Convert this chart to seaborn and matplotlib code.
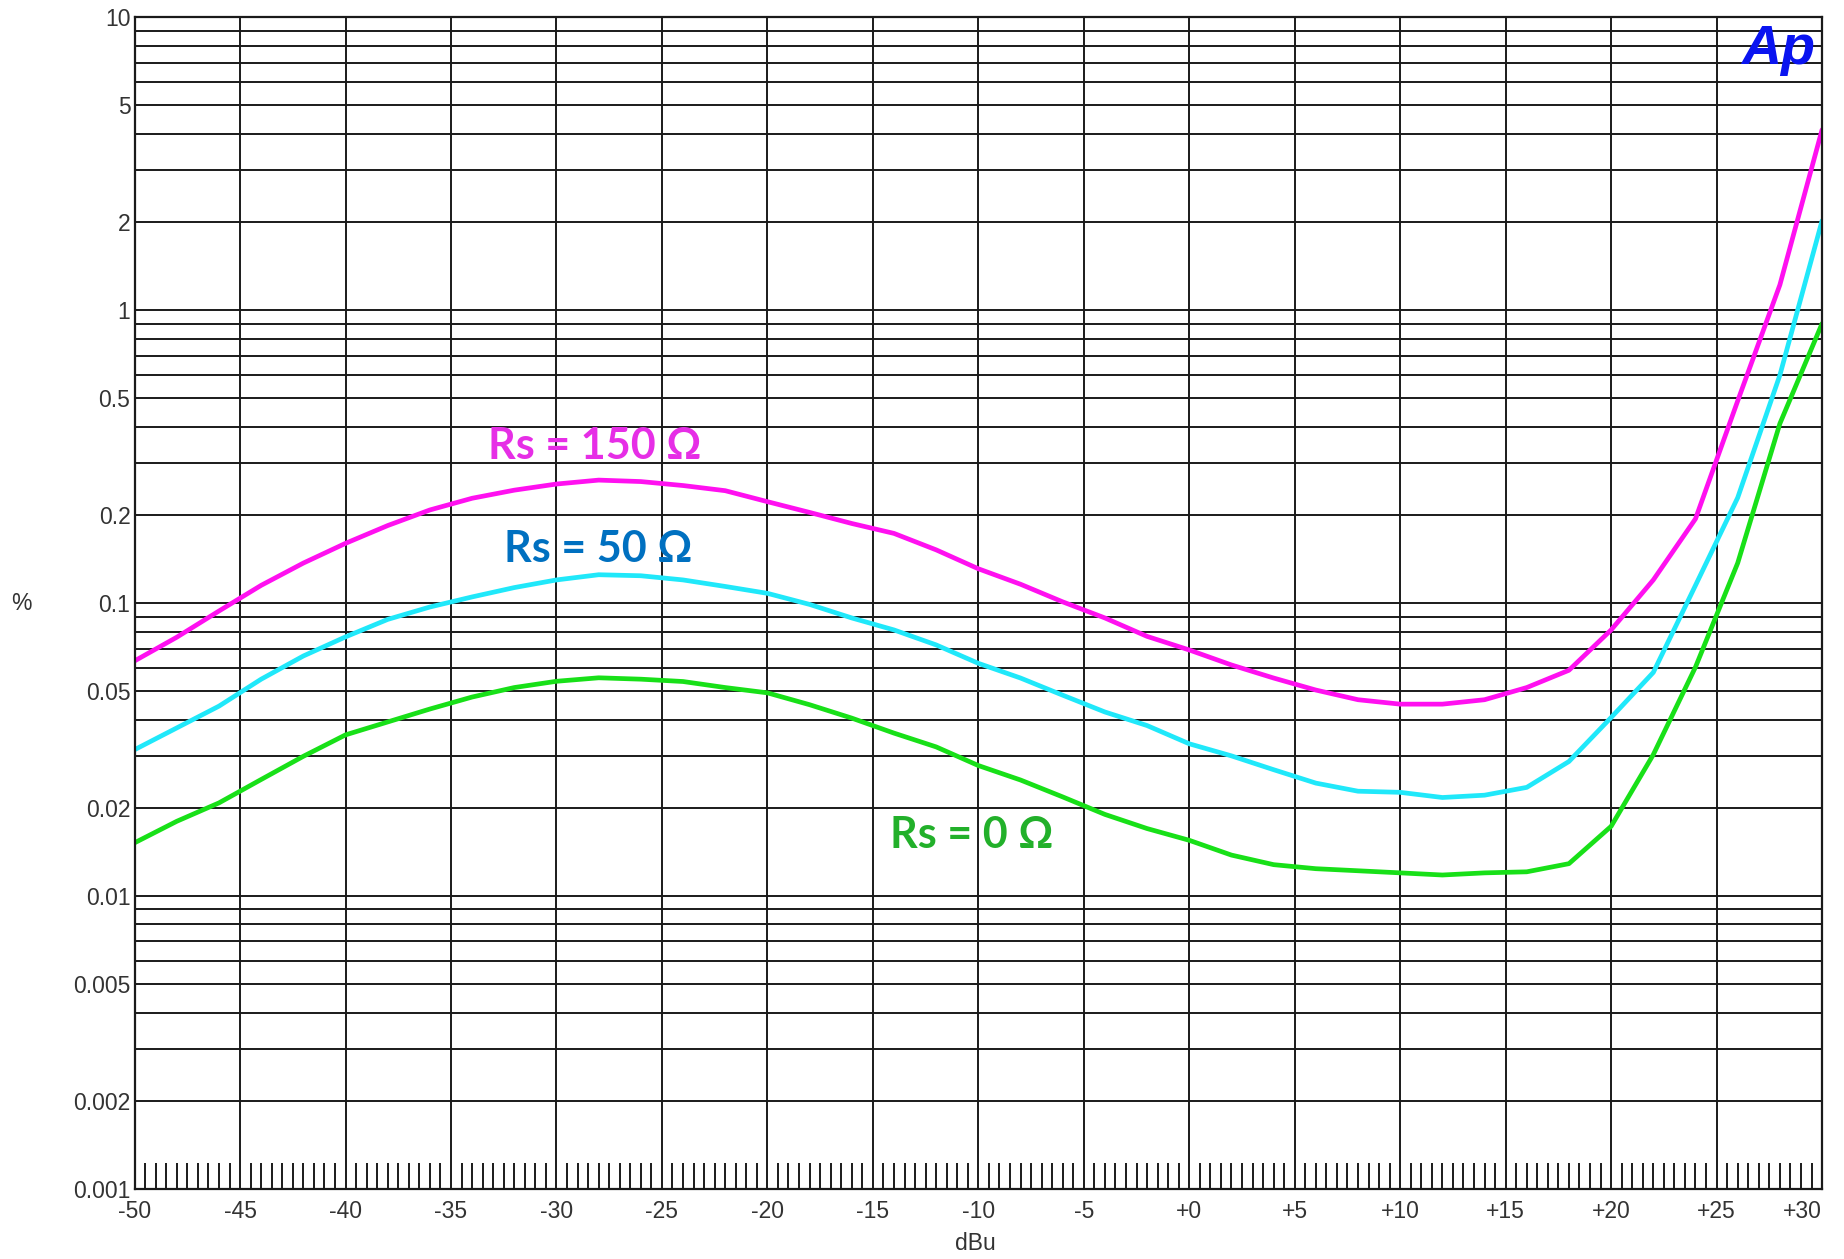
import numpy as np
import pandas as pd
import matplotlib
matplotlib.use("Agg")
import matplotlib.pyplot as plt
import seaborn as sns
from matplotlib.ticker import FixedLocator, FixedFormatter, MultipleLocator, NullLocator

# ---- data ----
dbu = list(range(-50, 31, 2))

thd_rs150 = [0.0635, 0.0765, 0.094, 0.115, 0.137, 0.160, 0.184, 0.208, 0.228, 0.243,
             0.255, 0.263, 0.260, 0.252, 0.242, 0.222, 0.204, 0.187, 0.173, 0.152,
             0.131, 0.116, 0.101, 0.089, 0.077, 0.0692, 0.0615, 0.0555, 0.0505, 0.0468,
             0.0452, 0.0452, 0.0468, 0.0515, 0.0590, 0.081, 0.120, 0.194, 0.49, 1.22, 4.13]

thd_rs50 = [0.0316, 0.0375, 0.0445, 0.055, 0.066, 0.0767, 0.088, 0.097, 0.105, 0.113,
            0.120, 0.125, 0.124, 0.120, 0.114, 0.108, 0.099, 0.089, 0.081, 0.072,
            0.0623, 0.0555, 0.0485, 0.0425, 0.0382, 0.0331, 0.0301, 0.0270, 0.0243, 0.0228,
            0.0226, 0.0217, 0.0221, 0.0235, 0.0288, 0.0407, 0.058, 0.115, 0.229, 0.60, 2.02]

thd_rs0 = [0.0152, 0.0180, 0.0208, 0.025, 0.030, 0.0355, 0.0393, 0.0435, 0.0478, 0.0515,
           0.0541, 0.0556, 0.0550, 0.0540, 0.0515, 0.0494, 0.0450, 0.0405, 0.0360, 0.0323,
           0.0279, 0.0249, 0.0218, 0.0190, 0.0170, 0.0155, 0.0138, 0.0128, 0.0124, 0.0122,
           0.0120, 0.0118, 0.0120, 0.0121, 0.0129, 0.0173, 0.0304, 0.0605, 0.137, 0.41, 0.90]

series_names = ["Rs = 150 Ω", "Rs = 50 Ω", "Rs = 0 Ω"]
line_colors = ["#FF10F0", "#20E8FA", "#18E018"]
text_colors = ["#E62EE6", "#0070C0", "#22B02A"]

x_ticks = list(range(-50, 31, 5))
x_labels = [("+" + str(v)) if v >= 0 else str(v) for v in x_ticks]
y_label_vals = [10, 5, 2, 1, 0.5, 0.2, 0.1, 0.05, 0.02, 0.01, 0.005, 0.002, 0.001]
y_label_txt = ["10", "5", "2", "1", "0.5", "0.2", "0.1", "0.05", "0.02", "0.01", "0.005", "0.002", "0.001"]

df = pd.concat([
    pd.DataFrame({"dBu": dbu, "thd": vals, "series": name})
    for name, vals in zip(series_names, [thd_rs150, thd_rs50, thd_rs0])
])

sns.set_theme(style="white")
plt.rcParams["font.family"] = ["Liberation Sans", "DejaVu Sans"]

fig = plt.figure(figsize=(18.44, 12.59), dpi=100)
fig.patch.set_facecolor("white")
ax = fig.add_axes([0.0730, 0.0556, 0.9151, 0.9307])

sns.lineplot(data=df, x="dBu", y="thd", hue="series", hue_order=series_names,
             palette=dict(zip(series_names, line_colors)), ax=ax, legend=False,
             linewidth=3.4, estimator=None, sort=True)

ax.set_yscale("log")
ax.set_xlim(-50, 30)
ax.set_ylim(0.001, 10)

# y gridlines at every 1..9 x decade
grid_vals = [d * 10.0 ** k for k in range(-3, 1) for d in range(1, 10)] + [10.0]
ylabels = []
for g in grid_vals:
    lab = ""
    for v, t in zip(y_label_vals, y_label_txt):
        if abs(g - v) / v < 1e-6:
            lab = t
    ylabels.append(lab)
ax.yaxis.set_major_locator(FixedLocator(grid_vals))
ax.yaxis.set_major_formatter(FixedFormatter(ylabels))
ax.yaxis.set_minor_locator(NullLocator())

ax.xaxis.set_major_locator(FixedLocator(x_ticks))
ax.xaxis.set_major_formatter(FixedFormatter(x_labels))
ax.xaxis.set_minor_locator(MultipleLocator(0.5))

ax.set_axisbelow(True)
ax.grid(which="major", axis="both", color="#1a1a1a", linewidth=1.4)

ax.tick_params(axis="y", which="both", length=0, pad=3, labelsize=16.5, labelcolor="#333333")
ax.tick_params(axis="x", which="major", length=0, pad=8, labelsize=16.5, labelcolor="#333333")
ax.tick_params(axis="x", which="minor", direction="in", length=19, width=1.4,
               color="#1a1a1a", bottom=True, top=False)

lbls = ax.get_xticklabels()
lbls[-1].set_horizontalalignment("right")

for sp in ax.spines.values():
    sp.set_color("#1a1a1a")
    sp.set_linewidth(1.6)

ax.set_xlabel("")
ax.set_ylabel("")
fig.text(0.0114, 0.521, "%", fontsize=16.5, color="#333333", ha="center", va="center")
fig.text(0.529, 0.0127, "dBu", fontsize=16.5, color="#333333", ha="center", va="center")

# curve annotations
ann_pos = [(-28.2, 0.345), (-28.0, 0.1535), (-10.3, 0.0161)]
for name, col, (xp, yp) in zip(series_names, text_colors, ann_pos):
    ax.text(xp, yp, name, color=col, fontsize=31, fontweight="bold",
            family=["Lato", "DejaVu Sans"], ha="center", va="center")

# logo
ax.text(0.952, 0.960, "Ap", transform=ax.transAxes, color="#0A14F0", fontsize=40,
        fontweight="heavy", fontstyle="italic", ha="left", va="baseline")

fig.savefig("out.png", dpi=100, facecolor="white")
